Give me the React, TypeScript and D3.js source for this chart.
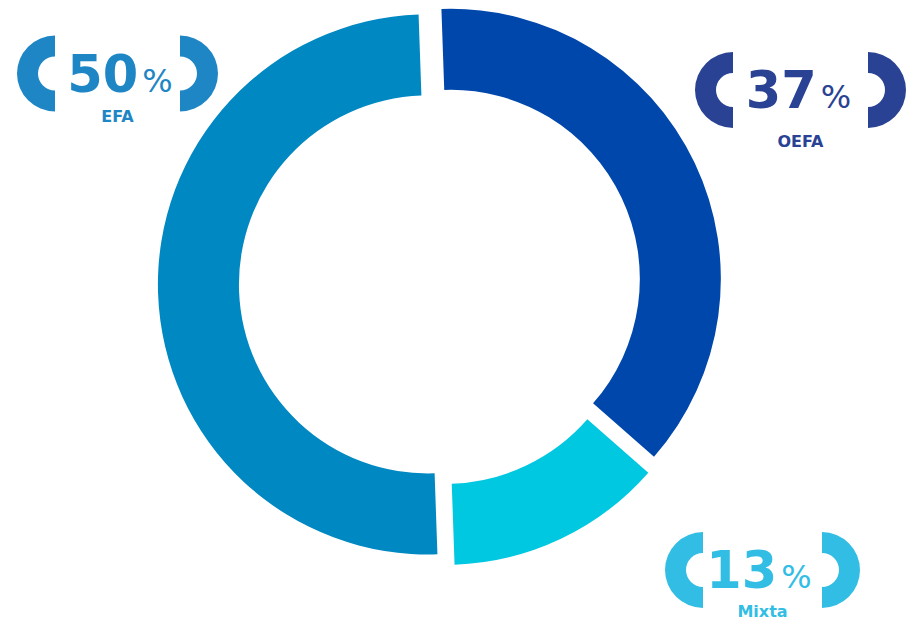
import React from "react";
import * as d3 from "d3";

// ---- data ----
const categories = ["OEFA", "Mixta", "EFA"];
const values = [37, 13, 50];
const sliceColors = ["#0047AB", "#00C8E0", "#0088C2"];
const labelColors = ["#2A4294", "#32BEE4", "#1E86C4"];

// ---- layout (not data) ----
const W = 910;
const H = 620;
const center = { x: 440, y: 284 };
const outerR = 270;
const innerR = 189;
const explode = 12;
const startDeg = -2;

const labelLayout: Record<string, { cx: number; cy: number; half: number; tx: number; labelDy: number }> = {
  OEFA: { cx: 800.5, cy: 90, half: 67.5, tx: 798.5, labelDy: 56.5 },
  Mixta: { cx: 762.5, cy: 570, half: 59.5, tx: 759, labelDy: 46.5 },
  EFA: { cx: 117.5, cy: 73.5, half: 62.5, tx: 120, labelDy: 48 },
};

const FONT = "'DejaVu Sans', sans-serif";

export default function App() {
  const a0 = (startDeg * Math.PI) / 180;
  const pie = d3
    .pie<number>()
    .sort(null)
    .value((d) => d)
    .startAngle(a0)
    .endAngle(a0 + 2 * Math.PI);
  const arcs = pie(values);
  const arcGen = d3.arc<d3.PieArcDatum<number>>().innerRadius(innerR).outerRadius(outerR);

  const bracketLeft = d3.arc()({ innerRadius: 17, outerRadius: 38, startAngle: Math.PI, endAngle: 2 * Math.PI } as any) as string;
  const bracketRight = d3.arc()({ innerRadius: 17, outerRadius: 38, startAngle: 0, endAngle: Math.PI } as any) as string;

  return (
    <svg
      width={W}
      height={H}
      viewBox={`0 0 ${W} ${H}`}
      style={{ position: "absolute", left: 0, top: 0, background: "#ffffff" }}
    >
      <g transform={`translate(${center.x},${center.y})`}>
        {arcs.map((a, i) => {
          const mid = (a.startAngle + a.endAngle) / 2;
          const dx = Math.sin(mid) * explode;
          const dy = -Math.cos(mid) * explode;
          return (
            <path
              key={categories[i]}
              d={arcGen(a) as string}
              fill={sliceColors[i]}
              transform={`translate(${dx},${dy})`}
            />
          );
        })}
      </g>
      {categories.map((c, i) => {
        const L = labelLayout[c];
        const col = labelColors[i];
        return (
          <g key={`lab-${c}`}>
            <path d={bracketLeft} fill={col} transform={`translate(${L.cx - L.half},${L.cy})`} />
            <path d={bracketRight} fill={col} transform={`translate(${L.cx + L.half},${L.cy})`} />
            <text
              x={L.tx}
              y={L.cy + 18}
              textAnchor="middle"
              fill={col}
              fontFamily={FONT}
              fontWeight="bold"
              fontSize={51}
            >
              {String(values[i])}
              <tspan dx={4} fontSize={32} fontWeight="normal">
                %
              </tspan>
            </text>
            <text
              x={L.cx}
              y={L.cy + L.labelDy}
              textAnchor="middle"
              fill={col}
              fontFamily={FONT}
              fontWeight="bold"
              fontSize={16}
            >
              {c}
            </text>
          </g>
        );
      })}
    </svg>
  );
}
